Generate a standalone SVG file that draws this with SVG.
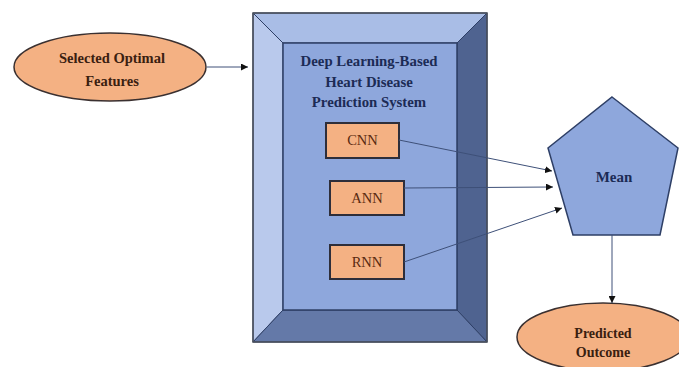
<svg xmlns="http://www.w3.org/2000/svg" width="679" height="367" viewBox="0 0 679 367">
<style>
.t{font-family:"Liberation Serif","Times New Roman",serif;font-weight:bold;text-anchor:middle}
.r{font-family:"Liberation Serif","Times New Roman",serif;text-anchor:middle;font-size:14.5px;fill:#5a2a10}
.orange{fill:#f4b183;stroke:#3a3030;stroke-width:1.5}
.box{fill:#f4b183;stroke:#2e2e3a;stroke-width:2}
.conn{stroke:#3e5078;stroke-width:1;fill:none;marker-end:url(#ah)}
</style>
<defs>
<marker id="ah" viewBox="0 0 10 10" refX="10" refY="5" markerWidth="7" markerHeight="7" orient="auto" markerUnits="userSpaceOnUse">
<path d="M0,0 L10,5 L0,10 z" fill="#111"/>
</marker>
</defs>
<rect width="679" height="367" fill="#ffffff"/>
<g id="selected-features">
<ellipse class="orange" cx="110" cy="67" rx="96" ry="34"/>
<text class="t" x="112" y="63" font-size="14.5" fill="#3a2010">Selected Optimal</text>
<text class="t" x="112" y="86" font-size="14.5" fill="#3a2010">Features</text>
</g>
<g id="system">
<polygon points="253,13 487,13 457,43 283,43" fill="#a9bde6" stroke="#2e3f66" stroke-width="1"/>
<polygon points="253,13 283,43 283,310 253,342" fill="#b9c9ec" stroke="#2e3f66" stroke-width="1"/>
<polygon points="487,13 487,342 457,310 457,43" fill="#4f6390" stroke="#2e3f66" stroke-width="1"/>
<polygon points="253,342 283,310 457,310 487,342" fill="#6479a8" stroke="#2e3f66" stroke-width="1"/>
<rect x="283" y="43" width="174" height="267" fill="#8ea7dc" stroke="#2e3f66" stroke-width="1.5"/>
<rect x="253" y="13" width="234" height="329" fill="none" stroke="#4a4f5a" stroke-width="1.5"/>
<text class="t" x="369" y="66" font-size="14.8" fill="#1c2b55">Deep Learning-Based</text>
<text class="t" x="369" y="87" font-size="14.8" fill="#1c2b55">Heart Disease</text>
<text class="t" x="369" y="107" font-size="14.8" fill="#1c2b55">Prediction System</text>
</g>
<g id="cnn">
<rect class="box" x="326" y="123" width="73" height="35"/>
<text class="r" x="362.5" y="145">CNN</text>
</g>
<g id="ann">
<rect class="box" x="330" y="181" width="74" height="34"/>
<text class="r" x="367" y="203">ANN</text>
</g>
<g id="rnn">
<rect class="box" x="330" y="245" width="74" height="34"/>
<text class="r" x="367" y="267">RNN</text>
</g>
<g id="mean">
<polygon points="612,97 678,148 660,235 573,235 548,148" fill="#8ea7dc" stroke="#2e3f66" stroke-width="1.5"/>
<text class="t" x="614" y="182" font-size="15" fill="#1c2b55">Mean</text>
</g>
<g id="predicted-outcome">
<ellipse class="orange" cx="603" cy="337" rx="86" ry="34"/>
<text class="t" x="603" y="338" font-size="14" fill="#3a2010">Predicted</text>
<text class="t" x="603" y="357" font-size="14" fill="#3a2010">Outcome</text>
</g>
<g id="connectors">
<path class="conn" d="M207,67 L248,67"/>
<path class="conn" d="M399,140 L552,171"/>
<path class="conn" d="M404,188 L553,187"/>
<path class="conn" d="M404,262 L562,208"/>
<path class="conn" d="M612,235 L612,303"/>
</g>
</svg>
